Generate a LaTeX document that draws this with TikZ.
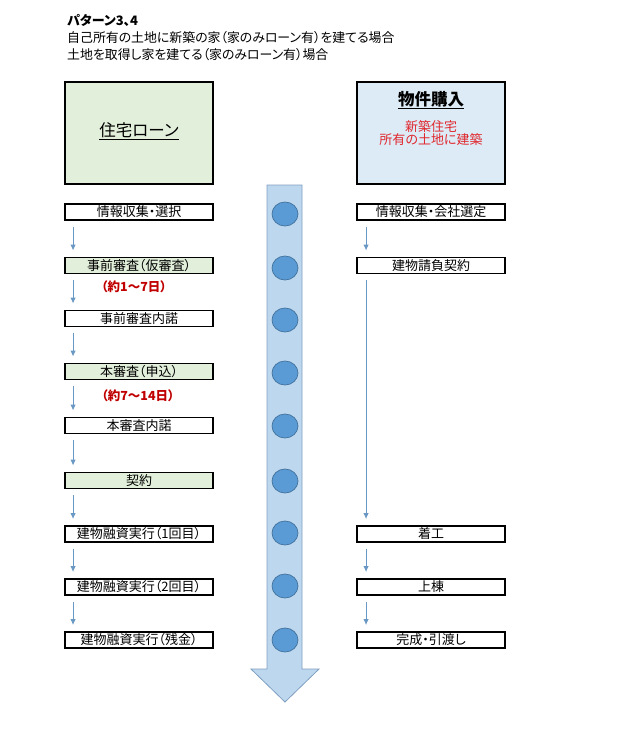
\documentclass[tikz,border=0pt]{standalone}
\usepackage{fontspec}
\newfontfamily\jp[RawFeature=+palt]{Noto Sans CJK JP}
\usetikzlibrary{arrows.meta,calc,shapes.geometric}
\definecolor{boxgreen}{HTML}{E2EFDA}
\definecolor{boxblue}{HTML}{DDEBF7}
\definecolor{bigarrow}{HTML}{BDD7EE}
\definecolor{bigarrowline}{HTML}{7F9FC0}
\definecolor{dot}{HTML}{5B9BD5}
\definecolor{dotline}{HTML}{41719C}
\definecolor{flowblue}{HTML}{6A98C4}
\definecolor{darkred}{HTML}{C00000}
\definecolor{red2}{HTML}{E0282E}
\tikzset{
  stepbox/.style={draw=black, line width=1.9pt, fill=white, minimum width=148pt, minimum height=16pt, inner sep=0pt, font=\jp\fontsize{13}{14}\selectfont},
  greenbox/.style={stepbox, fill=boxgreen},
  bigbox/.style={draw=black, line width=1.9pt, minimum width=148pt, minimum height=102pt, inner sep=0pt},
  arr/.style={draw=flowblue, line width=0.9pt, -{Latex[length=6pt,width=5.5pt]}},
  dotnode/.style={ellipse, draw=dotline, line width=0.7pt, fill=dot, minimum width=26pt, minimum height=24pt, inner sep=0pt},
  note/.style={font=\jp\bfseries\fontsize{12.5}{13}\selectfont, text=darkred},
  title/.style={anchor=west, inner sep=0pt, font=\jp\fontsize{12.9}{14}\selectfont}
}
\begin{document}
\begin{tikzpicture}[x=1pt,y=-1pt]
\useasboundingbox (0,0) rectangle (630,738);
% titles
\node[title, font=\jp\bfseries\fontsize{13}{14}\selectfont] (t1) at (67,20) {パターン3、4};
\node[title] (t2) at (67,38) {自己所有の土地に新築の家（家のみローン有）を建てる場合};
\node[title] (t3) at (67,55) {土地を取得し家を建てる（家のみローン有）場合};
% big boxes
\node[bigbox, fill=boxgreen] (L0) at (139,133) {};
\node[font=\jp\fontsize{16.5}{17}\selectfont] (L0t) at (139,131) {\underline{住宅ローン}};
\node[bigbox, fill=boxblue] (R0) at (431,133) {};
\node[font=\jp\bfseries\fontsize{16.5}{17}\selectfont] (R0t) at (431,100) {\underline{物件購入}};
\node[font=\jp\fontsize{13}{14}\selectfont, text=red2, align=center] (R0s) at (431,133) {新築住宅\\[-1pt]所有の土地に建築};
% center big arrow
\draw[fill=bigarrow, draw=bigarrowline, line width=0.8pt]
  (267,185) -- (302,185) -- (302,669) -- (319,669) -- (285,702) -- (251,669) -- (267,669) -- cycle;
\foreach \i/\y in {1/214,2/268,3/320,4/373,5/426,6/481,7/533,8/586,9/640}
  \node[dotnode] (c\i) at (285,\y) {};
% left column
\node[stepbox]  (L1) at (139,212) {情報収集・選択};
\node[greenbox] (L2) at (139,265.5) {事前審査（仮審査）};
\node[stepbox]  (L3) at (139,318.5) {事前審査内諾};
\node[greenbox] (L4) at (139,371.5) {本審査（申込）};
\node[stepbox]  (L5) at (139,425.5) {本審査内諾};
\node[greenbox] (L6) at (139,480.5) {契約};
\node[stepbox]  (L7) at (139,534) {建物融資実行（1回目）};
\node[stepbox]  (L8) at (139,587) {建物融資実行（2回目）};
\node[stepbox]  (L9) at (139,640) {建物融資実行（残金）};
\node[note] (n1) at (134,287) {（約1～7日）};
\node[note] (n2) at (138,396) {（約7～14日）};
\foreach \a/\b in {L1/L2,L2/L3,L3/L4,L4/L5,L5/L6,L6/L7,L7/L8,L8/L9}
  \draw[arr] ($(\a.south west)+(9,6)$) -- ($(\b.north west)+(9,-6)$);
% right column
\node[stepbox] (R1) at (431,212) {情報収集・会社選定};
\node[stepbox] (R2) at (431,265.5) {建物請負契約};
\node[stepbox] (R3) at (431,534) {着工};
\node[stepbox] (R4) at (431,587) {上棟};
\node[stepbox] (R5) at (431,640) {完成・引渡し};
\foreach \a/\b in {R1/R2,R2/R3,R3/R4,R4/R5}
  \draw[arr] ($(\a.south west)+(10,6)$) -- ($(\b.north west)+(10,-6)$);
\end{tikzpicture}
\end{document}
